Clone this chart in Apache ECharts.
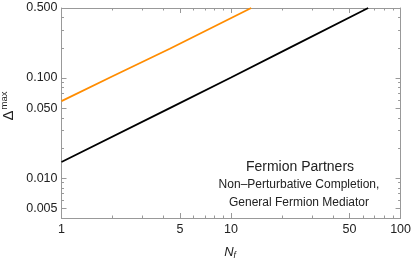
<!DOCTYPE html>
<html>
<head>
<meta charset="utf-8">
<script src="https://cdn.jsdelivr.net/npm/echarts@6/dist/echarts.min.js"></script>
<style>html,body{margin:0;padding:0;background:#fff}#c{width:414px;height:261px}</style>
</head>
<body>
<div id="c"></div>
<script>
// Data
var orangeX = [1, 2, 4.35, 13.15];
var orangeY = [0.0587, 0.104, 0.196, 0.5];
var blackX = [1, 4.35, 10, 22.1, 64.4];
var blackY = [0.0145, 0.0500, 0.101, 0.200, 0.5];
var xMajor = [1, 5, 10, 50, 100];
var xMinor = [2, 3, 4, 6, 7, 8, 9, 20, 30, 40, 60, 70, 80, 90];
var yMajor = [0.005, 0.01, 0.05, 0.1, 0.5];
var yMinor = [0.004, 0.006, 0.007, 0.008, 0.009, 0.02, 0.03, 0.04, 0.06, 0.07, 0.08, 0.09, 0.2, 0.3, 0.4];
var yLabelText = {0.005: '0.005', 0.01: '0.010', 0.05: '0.050', 0.1: '0.100', 0.5: '0.500'};
var xRange = [1, 100];
var yRange = [0.004, 0.5];
var titleLines = ['Fermion Partners', 'Non\u2013Perturbative Completion,', 'General Fermion Mediator'];

var FONT = 'Liberation Sans, Arial, sans-serif';
var GRAY = '#999999';
var TXT = '#222222';

function pair(xs, ys) { return xs.map(function (x, i) { return [x, ys[i]]; }); }

function xAx(pos, vals, len, labels, line) {
  return {
    type: 'log', logBase: 10, min: xRange[0], max: xRange[1], position: pos,
    axisLine: { show: line, onZero: false, lineStyle: { color: GRAY, width: 1 } },
    axisTick: { show: true, inside: true, length: len, customValues: vals, lineStyle: { color: GRAY } },
    minorTick: { show: false }, splitLine: { show: false },
    axisLabel: labels ? { show: true, customValues: vals, color: TXT, fontSize: 12.5, fontFamily: FONT, margin: 5,
      formatter: function (v) { return String(Math.round(v)); } } : { show: false }
  };
}
function yAx(pos, vals, len, labels, line) {
  return {
    type: 'log', logBase: 10, min: yRange[0], max: yRange[1], position: pos,
    axisLine: { show: line, onZero: false, lineStyle: { color: GRAY, width: 1 } },
    axisTick: { show: true, inside: true, length: len, customValues: vals, lineStyle: { color: GRAY } },
    minorTick: { show: false }, splitLine: { show: false },
    axisLabel: labels ? { show: true, customValues: vals, color: TXT, fontSize: 12.5, fontFamily: FONT, margin: 4,
      formatter: function (v) {
        var best = null, d = 1e9;
        yMajor.forEach(function (m) { var e = Math.abs(Math.log(m) - Math.log(v)); if (e < d) { d = e; best = m; } });
        return yLabelText[best];
      } } : { show: false }
  };
}

var chart = echarts.init(document.getElementById('c'), null, { renderer: 'canvas' });
chart.setOption({
  animation: false,
  backgroundColor: '#fff',
  grid: { left: 61.5, right: 12.5, top: 8, bottom: 43, containLabel: false },
  xAxis: [
    xAx('bottom', xMajor, 5, true, true),
    xAx('bottom', xMinor, 2.5, false, false),
    xAx('top', xMajor, 5, false, true),
    xAx('top', xMinor, 2.5, false, false)
  ],
  yAxis: [
    yAx('left', yMajor, 5, true, true),
    yAx('left', yMinor, 2.5, false, false),
    yAx('right', yMajor, 5, false, true),
    yAx('right', yMinor, 2.5, false, false)
  ],
  series: [
    { type: 'line', xAxisIndex: 0, yAxisIndex: 0, data: pair(orangeX, orangeY), showSymbol: false,
      lineStyle: { color: '#FF8C00', width: 1.8 }, clip: true },
    { type: 'line', xAxisIndex: 0, yAxisIndex: 0, data: pair(blackX, blackY), showSymbol: false,
      lineStyle: { color: '#000000', width: 1.8 }, clip: true }
  ],
  graphic: [
    { type: 'text', x: 230, y: 252, style: { text: '{n|N}{s|f}', textAlign: 'center', textVerticalAlign: 'middle',
      rich: { n: { fontSize: 13, fontStyle: 'italic', fontFamily: FONT, fill: TXT },
              s: { fontSize: 8.5, fontStyle: 'italic', fontFamily: FONT, fill: TXT, padding: [7, 0, 0, 0] } } } },
    { type: 'text', x: 9, y: 106, rotation: Math.PI / 2, style: { text: '{d|\u0394}{m|max}', textAlign: 'center', textVerticalAlign: 'middle',
      rich: { d: { fontSize: 15, fontFamily: FONT, fill: TXT },
              m: { fontSize: 9.5, fontFamily: FONT, fill: TXT, padding: [0, 0, 9, 1] } } } },
    { type: 'text', x: 300, y: 167, style: { text: titleLines[0], textAlign: 'center', textVerticalAlign: 'middle',
      fontSize: 14, fontFamily: FONT, fill: TXT } },
    { type: 'text', x: 299, y: 185, style: { text: titleLines[1], textAlign: 'center', textVerticalAlign: 'middle',
      fontSize: 12, fontFamily: FONT, fill: TXT } },
    { type: 'text', x: 299, y: 203, style: { text: titleLines[2], textAlign: 'center', textVerticalAlign: 'middle',
      fontSize: 12, fontFamily: FONT, fill: TXT } }
  ]
});
</script>
</body>
</html>
